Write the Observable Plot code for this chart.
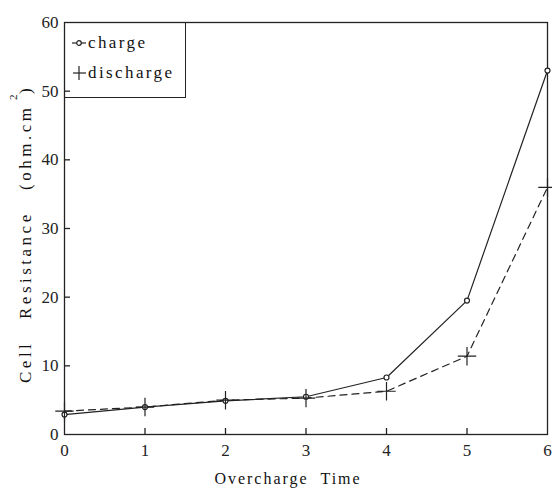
<!DOCTYPE html>
<html><head><meta charset="utf-8">
<script src="https://cdn.jsdelivr.net/npm/d3@7"></script>
<script src="https://cdn.jsdelivr.net/npm/@observablehq/plot@0.6"></script>
<style>
body{margin:0;background:#fff;}
#wrap{position:relative;width:552px;height:491px;font-family:"Liberation Serif","DejaVu Serif",serif;}
#legend{position:absolute;left:64px;top:22px;width:122px;height:76px;border:1px solid #222;box-sizing:border-box;background:transparent;}
.row{position:absolute;left:6px;display:flex;align-items:center;font-size:17px;letter-spacing:2.4px;color:#111;}
</style></head>
<body><div id="wrap"></div>
<script>
const times = [0, 1, 2, 3, 4, 5, 6];
const charge = [2.9, 4.0, 4.9, 5.5, 8.3, 19.5, 53.0];
const discharge = [3.4, 4.0, 5.0, 5.3, 6.3, 11.4, 36.0];
const xTicks = [0, 1, 2, 3, 4, 5, 6];
const yTicks = [0, 10, 20, 30, 40, 50, 60];
const xInnerTicks = [1, 2, 3, 4, 5];
const yInnerTicks = [10, 20, 30, 40, 50];
const seriesNames = ["charge", "discharge"];

const chargeData = times.map((t, i) => ({t, v: charge[i]}));
const dischargeData = times.map((t, i) => ({t, v: discharge[i]}));
const ink = "#222";

const W = 552, H = 491, mL = 64, mR = 5, mT = 22, mB = 57;
const tickLen = 6;

const plot = Plot.plot({
  width: W, height: H,
  marginLeft: mL, marginRight: mR, marginTop: mT, marginBottom: mB,
  style: {fontFamily: "'Liberation Serif', serif", fontSize: "17px", color: ink, background: "#fff"},
  x: {domain: [0, 6]},
  y: {domain: [0, 60]},
  marks: [
    Plot.frame({stroke: ink, strokeWidth: 1.3}),
    Plot.axisX({ticks: xTicks, tickSize: 0, tickPadding: 9, label: null, tickFormat: d => String(d)}),
    Plot.axisY({ticks: yTicks, tickSize: 0, tickPadding: 6, label: null, tickFormat: d => String(d)}),
    // inward ticks
    Plot.tickX(xInnerTicks, {x: d => d, insetTop: (H - mT - mB) - tickLen, stroke: ink, strokeWidth: 1.3}),
    Plot.tickY(yInnerTicks, {y: d => d, insetRight: (W - mL - mR) - tickLen, stroke: ink, strokeWidth: 1.3}),
    Plot.line(chargeData, {x: "t", y: "v", stroke: ink, strokeWidth: 1.2}),
    Plot.line(dischargeData, {x: "t", y: "v", stroke: ink, strokeWidth: 1.2, strokeDasharray: "7,5"}),
    Plot.dot(chargeData, {x: "t", y: "v", r: 2.5, stroke: ink, fill: "#fff", strokeWidth: 1.2}),
    Plot.dot(dischargeData, {x: "t", y: "v", symbol: "plus", r: 6, stroke: ink, strokeWidth: 1.2})
  ]
});
const wrap = document.getElementById("wrap");
wrap.appendChild(plot);

// axis titles
const svg = d3.select(plot);
svg.append("text")
  .attr("x", 288).attr("y", 484)
  .attr("text-anchor", "middle")
  .style("font-size", "16px").style("letter-spacing", "2px").attr("fill", "#111")
  .text("Overcharge  Time");
const yl = svg.append("text")
  .attr("transform", "translate(31,0) rotate(-90)")
  .attr("text-anchor", "start")
  .style("font-size", "17px").style("letter-spacing", "3.5px").attr("fill", "#111");
yl.append("tspan").attr("x", -383).attr("y", 0).text("Cell");
yl.append("tspan").attr("x", -319).attr("y", 0).text("Resistance");
yl.append("tspan").attr("x", -190).attr("y", 0).text("(ohm.cm");
yl.append("tspan").attr("x", -100).attr("y", -14).style("font-size", "11px").text("2");
yl.append("tspan").attr("x", -94).attr("y", 0).text(")");

// legend
const leg = document.createElement("div");
leg.id = "legend";
leg.innerHTML = `
<div class="row" style="top:10px"><svg width="16" height="12" style="margin-right:1px"><line x1="1" y1="6" x2="15" y2="6" stroke="${ink}" stroke-width="1.2"/><circle cx="8" cy="6" r="2.3" fill="#fff" stroke="${ink}" stroke-width="1.2"/></svg><span>${seriesNames[0]}</span></div>
<div class="row" style="top:40px"><svg width="16" height="16" style="margin-right:1px"><line x1="2" y1="8" x2="15" y2="8" stroke="${ink}" stroke-width="1.2"/><line x1="8" y1="1" x2="8" y2="15" stroke="${ink}" stroke-width="1.2"/></svg><span>${seriesNames[1]}</span></div>`;
wrap.appendChild(leg);
</script></body></html>
